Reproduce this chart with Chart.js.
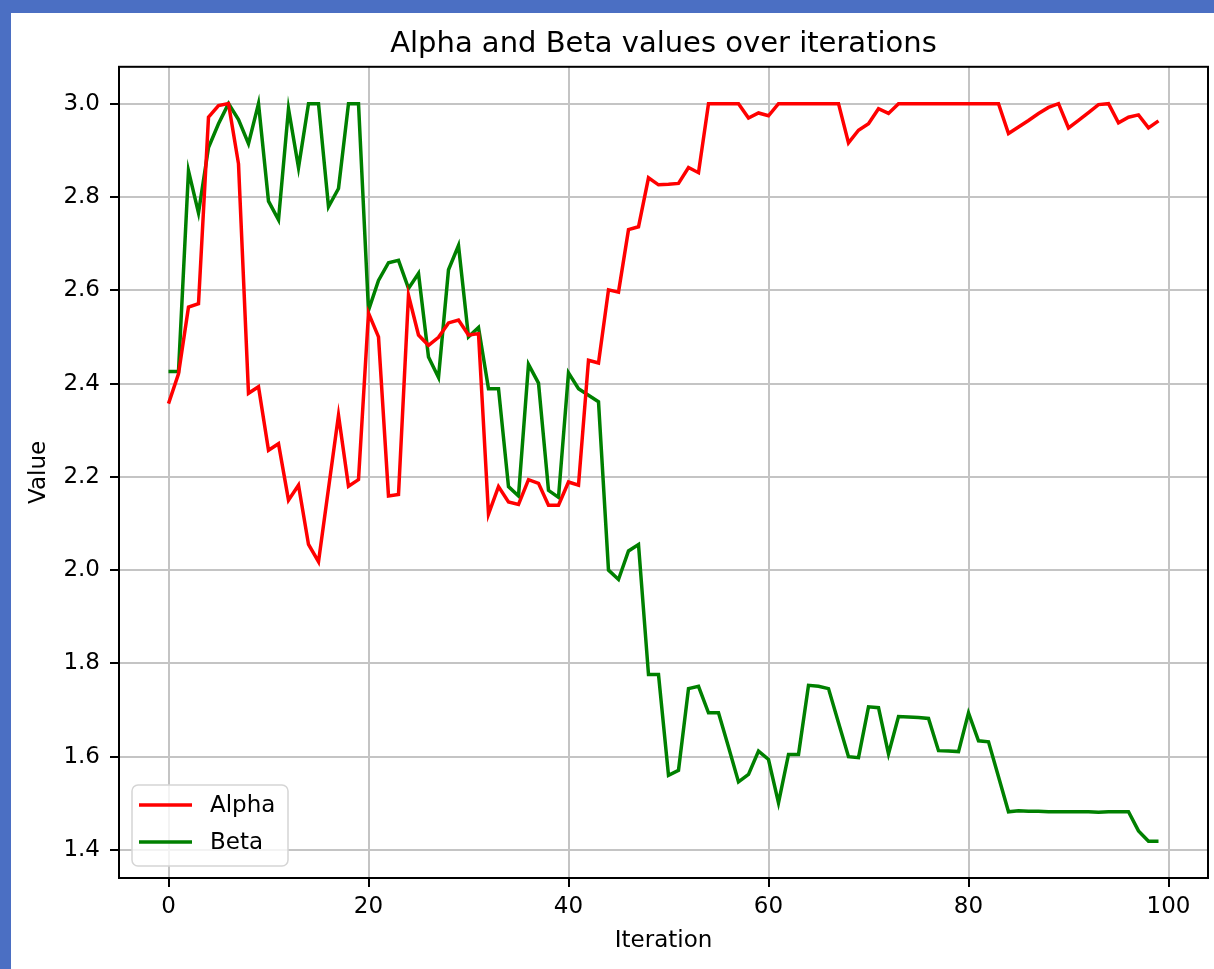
<!DOCTYPE html>
<html>
<head>
<meta charset="utf-8">
<script src="https://cdn.jsdelivr.net/npm/chart.js@4.4.1/dist/chart.umd.min.js"></script>
<style>
  html, body { margin: 0; padding: 0; }
  body { width: 1214px; height: 969px; background: #4b6fc3; position: relative; overflow: hidden; }
  .card { position: absolute; left: 11px; top: 13px; width: 1203px; height: 956px; background: #ffffff; }
  canvas { position: absolute; left: 0; top: 0; }
</style>
</head>
<body>
<div class="card"></div>
<canvas id="c" width="1214" height="969"></canvas>
<script>
const chartTitle = 'Alpha and Beta values over iterations';
const xLabel = 'Iteration';
const yLabel = 'Value';
const seriesNames = ['Alpha', 'Beta'];
const xTicks = [0, 20, 40, 60, 80, 100];
const yTicks = [1.4, 1.6, 1.8, 2.0, 2.2, 2.4, 2.6, 2.8, 3.0];

const alpha = [
  2.357, 2.421, 2.564, 2.571, 2.971, 2.996, 3.000, 2.871, 2.379, 2.393,
  2.257, 2.271, 2.150, 2.182, 2.055, 2.018, 2.175, 2.332, 2.180, 2.194,
  2.551, 2.500, 2.159, 2.162, 2.589, 2.504, 2.482, 2.499, 2.530, 2.536,
  2.504, 2.507, 2.120, 2.179, 2.146, 2.141, 2.194, 2.186, 2.139, 2.139,
  2.189, 2.182, 2.450, 2.444, 2.601, 2.596, 2.730, 2.736, 2.841, 2.826,
  2.827, 2.829, 2.863, 2.852, 3.000, 3.000, 3.000, 3.000, 2.969, 2.980,
  2.974, 3.000, 3.000, 3.000, 3.000, 3.000, 3.000, 3.000, 2.916, 2.943,
  2.957, 2.989, 2.979, 3.000, 3.000, 3.000, 3.000, 3.000, 3.000, 3.000,
  3.000, 3.000, 3.000, 3.000, 2.936, 2.950, 2.964, 2.979, 2.992, 3.000,
  2.948, 2.964, 2.981, 2.998, 3.000, 2.959, 2.971, 2.976, 2.948, 2.963
];
const beta = [
  2.426, 2.426, 2.856, 2.766, 2.906, 2.957, 3.000, 2.966, 2.914, 3.000,
  2.791, 2.751, 2.989, 2.863, 3.000, 3.000, 2.779, 2.818, 3.000, 3.000,
  2.557, 2.621, 2.659, 2.664, 2.604, 2.636, 2.457, 2.413, 2.644, 2.696,
  2.500, 2.520, 2.389, 2.389, 2.179, 2.159, 2.441, 2.401, 2.171, 2.156,
  2.423, 2.389, 2.375, 2.361, 2.000, 1.980, 2.041, 2.055, 1.776, 1.776,
  1.560, 1.571, 1.746, 1.751, 1.694, 1.694, 1.621, 1.546, 1.562, 1.612,
  1.594, 1.501, 1.605, 1.605, 1.753, 1.751, 1.746, 1.673, 1.600, 1.598,
  1.707, 1.705, 1.606, 1.686, 1.685, 1.684, 1.682, 1.613, 1.612, 1.611,
  1.694, 1.634, 1.632, 1.557, 1.482, 1.484, 1.483, 1.483, 1.482, 1.482,
  1.482, 1.482, 1.482, 1.481, 1.482, 1.482, 1.482, 1.441, 1.419, 1.419
];
const iterations = alpha.map((_, i) => i);

const FONT = 'DejaVu Sans';
Chart.defaults.font.family = FONT;
Chart.defaults.color = '#000';

const frame = {
  id: 'frame',
  afterDatasetsDraw(chart) {
    const {ctx, chartArea: a} = chart;
    ctx.save();
    ctx.strokeStyle = '#000';
    ctx.lineWidth = 2;
    ctx.strokeRect(a.left, a.top, a.right - a.left, a.bottom - a.top);
    ctx.restore();
  }
};

const innerLegend = {
  id: 'innerLegend',
  afterDraw(chart) {
    const {ctx, chartArea: a} = chart;
    const x0 = a.left + 13, y1 = a.bottom - 12;
    const w = 156, h = 81;
    const y0 = y1 - h;
    ctx.save();
    ctx.beginPath();
    if (ctx.roundRect) ctx.roundRect(x0, y0, w, h, 6); else ctx.rect(x0, y0, w, h);
    ctx.fillStyle = 'rgba(255,255,255,0.8)';
    ctx.fill();
    ctx.strokeStyle = '#d5d5d5';
    ctx.lineWidth = 1.5;
    ctx.stroke();
    ctx.font = '23px "' + FONT + '"';
    ctx.textBaseline = 'middle';
    ctx.textAlign = 'left';
    chart.data.datasets.forEach((ds, i) => {
      const ly = y0 + 20 + i * 37;
      ctx.strokeStyle = ds.borderColor;
      ctx.lineWidth = 3.5;
      ctx.beginPath();
      ctx.moveTo(x0 + 7, ly);
      ctx.lineTo(x0 + 60, ly);
      ctx.stroke();
      ctx.fillStyle = '#000';
      ctx.fillText(ds.label, x0 + 78, ly + 1);
    });
    ctx.restore();
  }
};

new Chart(document.getElementById('c'), {
  type: 'line',
  data: {
    labels: iterations,
    datasets: [
      { label: seriesNames[0], data: iterations.map((x, i) => ({x, y: alpha[i]})),
        borderColor: '#ff0000', backgroundColor: '#ff0000', borderWidth: 3.5,
        pointRadius: 0, tension: 0, fill: false },
      { label: seriesNames[1], data: iterations.map((x, i) => ({x, y: beta[i]})),
        borderColor: '#008000', backgroundColor: '#008000', borderWidth: 3.5,
        pointRadius: 0, tension: 0, fill: false }
    ]
  },
  options: {
    responsive: false,
    animation: false,
    devicePixelRatio: 1,
    layout: { padding: { left: 0, right: 6, top: 0, bottom: 0 } },
    plugins: {
      legend: { display: false },
      tooltip: { enabled: false },
      title: {
        display: true, text: chartTitle, color: '#000', fullSize: false,
        font: { size: 29, weight: 'normal', family: FONT },
        padding: { top: 27, bottom: 5 }
      }
    },
    scales: {
      x: {
        type: 'linear', min: -4.95, max: 103.95,
        afterBuildTicks: s => { s.ticks = xTicks.map(v => ({value: v})); },
        afterFit: s => { s.height = 91; },
        ticks: { font: { size: 23 }, padding: 6, maxRotation: 0, color: '#000',
                 callback: v => String(v) },
        grid: { color: '#c4c4c4', lineWidth: 2, tickColor: '#000', tickWidth: 2, tickLength: 9 },
        border: { color: '#000', width: 2 },
        title: { display: true, text: xLabel, font: { size: 23 }, color: '#000',
                 padding: { top: 0, bottom: 14 } }
      },
      y: {
        type: 'linear', min: 1.34, max: 3.079,
        afterBuildTicks: s => { s.ticks = yTicks.map(v => ({value: v})); },
        afterFit: s => { s.width = 119; },
        ticks: { font: { size: 23 }, padding: 10, color: '#000',
                 callback: v => Number(v).toFixed(1) },
        grid: { color: '#c4c4c4', lineWidth: 2, tickColor: '#000', tickWidth: 2, tickLength: 9 },
        border: { color: '#000', width: 2 },
        title: { display: true, text: yLabel, font: { size: 23 }, color: '#000',
                 padding: { top: 25, bottom: 0 } }
      }
    }
  },
  plugins: [frame, innerLegend]
});
</script>
</body>
</html>
